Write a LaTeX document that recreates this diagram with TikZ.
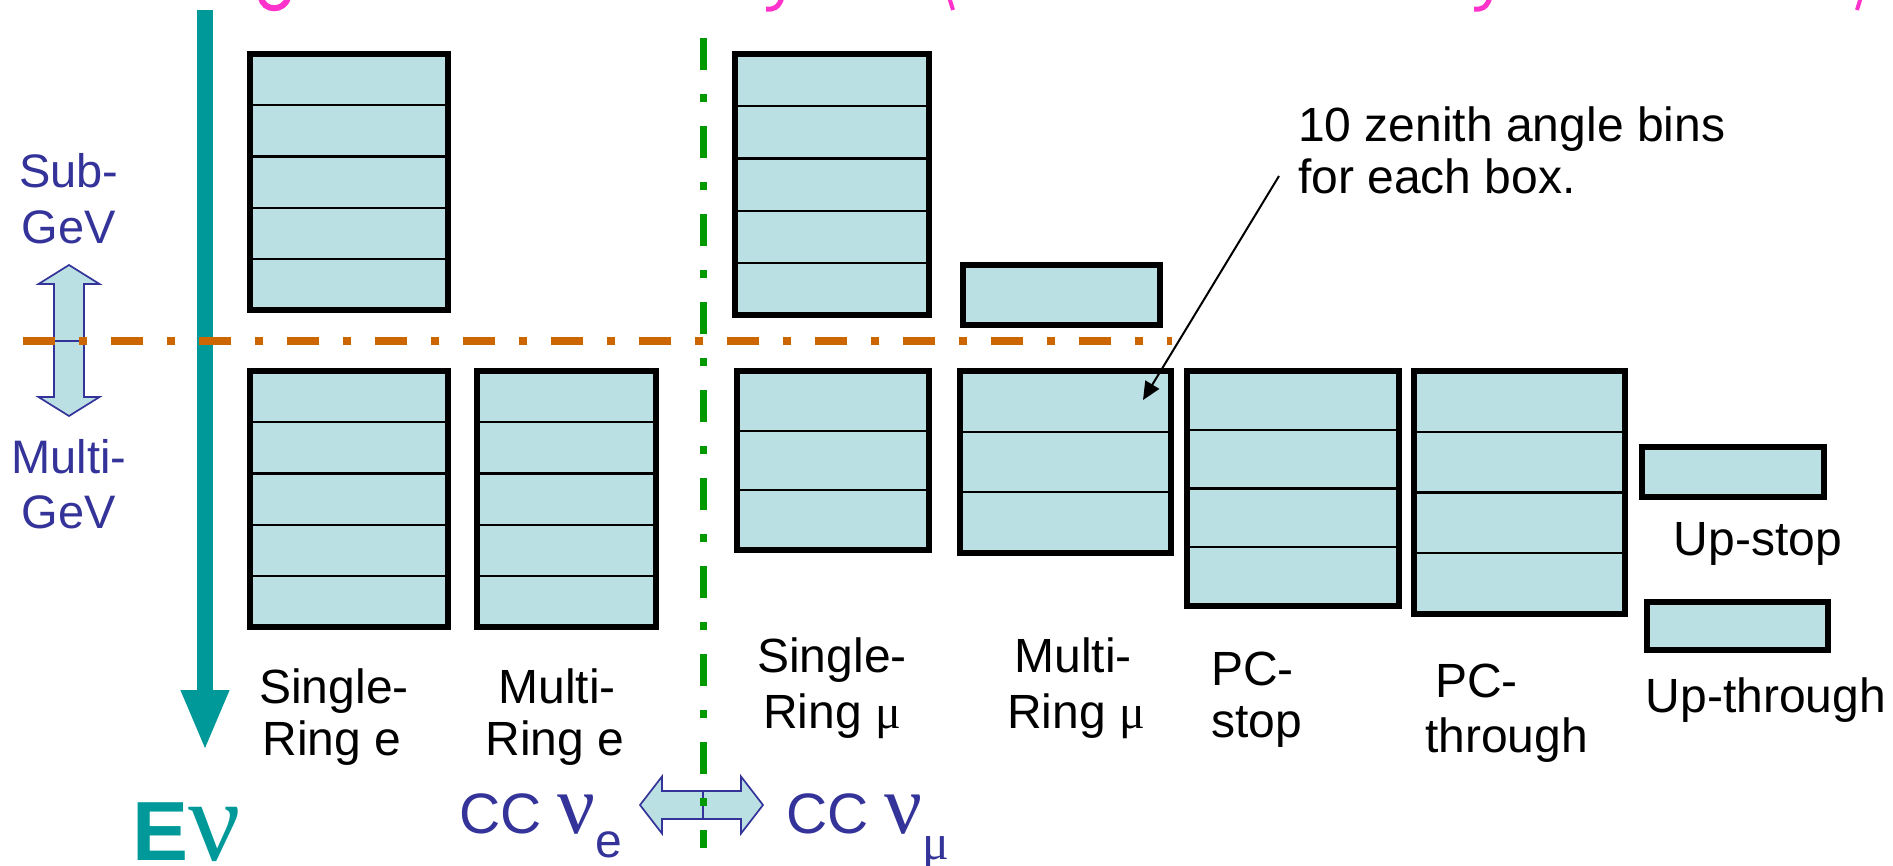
\documentclass[tikz,border=0pt]{standalone}
\usepackage{fontspec}
\setmainfont{Liberation Sans}
\newfontfamily\grk{Liberation Serif}
\usetikzlibrary{arrows.meta,calc}
\definecolor{binfill}{RGB}{187,224,227}
\definecolor{tealc}{RGB}{0,153,153}
\definecolor{navyc}{RGB}{51,51,153}
\definecolor{orngc}{RGB}{204,102,0}
\definecolor{grnc}{RGB}{0,153,0}
\definecolor{pinkc}{RGB}{255,51,204}
\newcommand{\binbox}[6]{%
  \pgfmathsetmacro\bw{#4-#2}\pgfmathsetmacro\bh{#5-#3}%
  \node[bin,minimum width=\bw pt,minimum height=\bh pt] (#1) at (#2,#3) {};
  \ifnum#6>1
    \pgfmathtruncatemacro\nm{#6-1}%
    \foreach \k in {1,...,\nm}{\draw[rowline] ($(#1.north west)!\k/#6!(#1.south west)$) -- ($(#1.north east)!\k/#6!(#1.south east)$);}
  \fi
}
\begin{document}
\begin{tikzpicture}[x=1pt,y=-1pt,
  bin/.style={draw=black,line width=6pt,fill=binfill,inner sep=0pt,outer sep=0pt,anchor=north west},
  rowline/.style={draw=black,line width=2.2pt},
  lbl/.style={font=\fontsize{48}{55}\selectfont,text=black,inner sep=0pt,anchor=base},
  gev/.style={font=\fontsize{47}{54}\selectfont,text=navyc,inner sep=0pt,anchor=base},
  cc/.style={font=\fontsize{57}{60}\selectfont,text=navyc,inner sep=0pt,anchor=base west},
  dbl/.style={draw=navyc,line width=1.7pt,fill=binfill,line join=miter},
  dashdot/.style={dash pattern=on 32pt off 24pt on 8pt off 24pt}
]
\useasboundingbox (0,0) rectangle (1893,865);
\clip (0,0) rectangle (1893,865);

% cut-off title fragments (pink)
\draw[pinkc,line width=6pt] (261,-3) .. controls (263,12) and (285,12) .. (288,-3);
\draw[pinkc,line width=5pt] (782,-3) .. controls (779,8) and (773,10) .. (766,9);
\draw[pinkc,line width=5pt] (1490,-3) .. controls (1487,8) and (1481,10) .. (1474,9);
\draw[pinkc,line width=4pt] (949,-3) -- (953,10);
\draw[pinkc,line width=4pt] (1861,-3) -- (1857,10);

% teal energy arrow
\coordinate (evtop) at (205,10);
\coordinate (evtip) at (205,751);
\draw[tealc,line width=16pt,-{Triangle[width=44pt,length=61pt]}] (evtop) -- (evtip);
\node[anchor=base west,text=tealc,inner sep=0pt,text depth=0pt] (ev) at (132,860)
  {\fontsize{84}{84}\selectfont\bfseries E{\grk\mdseries\fontsize{116}{116}\selectfont ν}};

% boxes
\binbox{A}{250}{54}{448}{310}{5}
\binbox{B}{250}{371}{448}{627}{5}
\binbox{C}{477}{371}{656}{627}{5}
\binbox{D}{735}{54}{929}{315}{5}
\binbox{E}{963}{265}{1160}{325}{1}
\binbox{F}{737}{371}{929}{550}{3}
\binbox{G}{960}{371}{1171}{553}{3}
\binbox{H}{1187}{371}{1399}{606}{4}
\binbox{I}{1414}{371}{1625}{614}{4}
\binbox{J}{1642}{447}{1824}{497}{1}
\binbox{K}{1647}{602}{1828}{650}{1}

% labels
\node[gev] (sub1) at (69,187) {Sub-};
\node[gev] (sub2) at (69,243) {GeV};
\node[gev] (mul1) at (69,473) {Multi-};
\node[gev] (mul2) at (69,528) {GeV};

\node[lbl] (se1) at (334,703) {Single-};
\node[lbl] (se2) at (332,755) {Ring e};
\node[lbl] (me1) at (557,703) {Multi-};
\node[lbl] (me2) at (555,755) {Ring e};
\node[lbl] (sm1) at (832,672) {Single-};
\node[lbl] (sm2) at (832,728) {Ring {\grk μ}};
\node[lbl] (mm1) at (1073,672) {Multi-};
\node[lbl] (mm2) at (1076,728) {Ring {\grk μ}};
\node[lbl,anchor=base west] (ps1) at (1211,685) {PC-};
\node[lbl,anchor=base west] (ps2) at (1211,737) {stop};
\node[lbl,anchor=base west] (pt1) at (1435,697) {PC-};
\node[lbl,anchor=base west] (pt2) at (1425,752) {through};
\node[lbl] (us) at (1758,555) {Up-stop};
\node[lbl] (ut) at (1766,712) {Up-through};
\node[lbl,anchor=base west] (zen1) at (1298,141) {10 zenith angle bins};
\node[lbl,anchor=base west] (zen2) at (1298,193) {for each box.};

% annotation arrow
\coordinate (annstart) at (1279,176);
\coordinate (anntip) at (1143,400);
\draw[black,line width=2pt,-{Triangle[width=16pt,length=18pt]}] (annstart) -- (anntip);

% Sub/Multi double arrow
\draw[dbl] (69,265) -- (99.5,284) -- (84,284) -- (84,397) -- (99.5,397) -- (69,416)
  -- (38.5,397) -- (54,397) -- (54,284) -- (38.5,284) -- cycle;
\draw[navyc,line width=1.7pt] (54,341) -- (84,341);

% CC double arrow
\draw[dbl] (640,805) -- (662,776.5) -- (662,791) -- (741,791) -- (741,776.5) -- (763,805)
  -- (741,833.5) -- (741,819) -- (662,819) -- (662,833.5) -- cycle;
\draw[navyc,line width=1.7pt] (703,791) -- (703,819);

\node[cc,text depth=0pt] (ccne) at (459,833) {CC {\grk\fontsize{84}{84}\selectfont ν}\raisebox{-24pt}{\fontsize{48}{48}\selectfont e}};
\node[cc,text depth=0pt] (ccnm) at (786,833) {CC {\grk\fontsize{84}{84}\selectfont ν}\raisebox{-26pt}{\grk\fontsize{50}{50}\selectfont μ}};

% dash-dot separators
\coordinate (gtop) at (703,38);
\coordinate (gbot) at (703,848);
\draw[grnc,line width=7pt,dashdot] (gtop) -- (gbot);
\coordinate (oleft) at (23,341);
\coordinate (oright) at (1172,341);
\draw[orngc,line width=8pt,dashdot] (oleft) -- (oright);
\end{tikzpicture}
\end{document}
